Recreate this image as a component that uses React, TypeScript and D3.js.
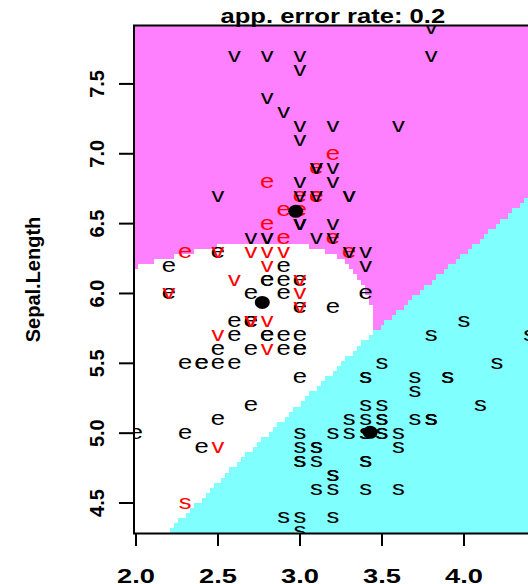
import React from "react";
import * as d3 from "d3";

// iris data: Sepal.Width (x) and Sepal.Length (y) per species
const setosaWidth = [3.5,3.0,3.2,3.1,3.6,3.9,3.4,3.4,2.9,3.1,3.7,3.4,3.0,3.0,4.0,4.4,3.9,3.5,3.8,3.8,3.4,3.7,3.6,3.3,3.4,3.0,3.4,3.5,3.4,3.2,3.1,3.4,4.1,4.2,3.1,3.2,3.5,3.6,3.0,3.4,3.5,2.3,3.2,3.5,3.8,3.0,3.8,3.2,3.7,3.3];
const setosaLength = [5.1,4.9,4.7,4.6,5.0,5.4,4.6,5.0,4.4,4.9,5.4,4.8,4.8,4.3,5.8,5.7,5.4,5.1,5.7,5.1,5.4,5.1,4.6,5.1,4.8,5.0,5.0,5.2,5.2,4.7,4.8,5.4,5.2,5.5,4.9,5.0,5.5,4.9,4.4,5.1,5.0,4.5,4.4,5.0,5.1,4.8,5.1,4.6,5.3,5.0];
const versicolorWidth = [3.2,3.2,3.1,2.3,2.8,2.8,3.3,2.4,2.9,2.7,2.0,3.0,2.2,2.9,2.9,3.1,3.0,2.7,2.2,2.5,3.2,2.8,2.5,2.8,2.9,3.0,2.8,3.0,2.9,2.6,2.4,2.4,2.7,2.7,3.0,3.4,3.1,2.3,3.0,2.5,2.6,3.0,2.6,2.3,2.7,3.0,2.9,2.9,2.5,2.8];
const versicolorLength = [7.0,6.4,6.9,5.5,6.5,5.7,6.3,4.9,6.6,5.2,5.0,5.9,6.0,6.1,5.6,6.7,5.6,5.8,6.2,5.6,5.9,6.1,6.3,6.1,6.4,6.6,6.8,6.7,6.0,5.7,5.5,5.5,5.8,6.0,5.4,6.0,6.7,6.3,5.6,5.5,5.5,6.1,5.8,5.0,5.6,5.7,5.7,6.2,5.1,5.7];
const virginicaWidth = [3.3,2.7,3.0,2.9,3.0,3.0,2.5,2.9,2.5,3.6,3.2,2.7,3.0,2.5,2.8,3.2,3.0,3.8,2.6,2.2,3.2,2.8,2.8,2.7,3.3,3.2,2.8,3.0,2.8,3.0,2.8,3.8,2.8,2.8,2.6,3.0,3.4,3.1,3.0,3.1,3.1,3.1,2.7,3.2,3.3,3.0,2.5,3.0,3.4,3.0];
const virginicaLength = [6.3,5.8,7.1,6.3,6.5,7.6,4.9,7.3,6.7,7.2,6.5,6.4,6.8,5.7,5.8,6.4,6.5,7.7,7.7,6.0,6.9,5.6,7.7,6.3,6.7,7.2,6.2,6.1,6.4,7.2,7.4,7.9,6.4,6.3,6.1,7.7,6.3,6.4,6.0,6.9,6.7,6.9,5.8,6.8,6.7,6.7,6.3,6.5,6.2,5.9];

const classLabels = ["s", "e", "v"];
const regionColors = ["#80FFFF", "#FFFFFF", "#FF80FF"];
const xTicks = [2.0, 2.5, 3.0, 3.5, 4.0];
const yTicks = [4.5, 5.0, 5.5, 6.0, 6.5, 7.0, 7.5];
const titleText = "app. error rate: 0.2";
const yLabel = "Sepal.Length";
const PREC = 100;

const classes = [
  { w: setosaWidth, l: setosaLength },
  { w: versicolorWidth, l: versicolorLength },
  { w: virginicaWidth, l: virginicaLength },
];

// QDA fit (as in klaR::partimat, method = "qda")
const models = classes.map((c) => {
  const n = c.w.length;
  const mx = d3.mean(c.w)!;
  const my = d3.mean(c.l)!;
  let a = 0, b = 0, d = 0;
  for (let i = 0; i < n; i++) {
    const dx = c.w[i] - mx, dy = c.l[i] - my;
    a += dx * dx; b += dx * dy; d += dy * dy;
  }
  a /= n - 1; b /= n - 1; d /= n - 1;
  const det = a * d - b * b;
  return { mx, my, a, b, d, det };
});

function classify(x: number, y: number): number {
  let best = 0, bestS = -Infinity;
  models.forEach((m, k) => {
    const dx = x - m.mx, dy = y - m.my;
    const q = (m.d * dx * dx - 2 * m.b * dx * dy + m.a * dy * dy) / m.det;
    const s = -0.5 * Math.log(m.det) - 0.5 * q;
    if (s > bestS) { bestS = s; best = k; }
  });
  return best;
}

const allW = classes.flatMap((c) => c.w);
const allL = classes.flatMap((c) => c.l);
const xMin = d3.min(allW)!, xMax = d3.max(allW)!;
const yMin = d3.min(allL)!, yMax = d3.max(allL)!;
const dxg = (xMax - xMin) / (PREC - 1);
const dyg = (yMax - yMin) / (PREC - 1);

const L = 134, R = 531.6, T = 25.5, B = 533.5;
const xScale = d3.scaleLinear().domain([xMin - dxg / 2, xMax + dxg / 2]).range([L, R]);
const yScale = d3.scaleLinear().domain([yMin - dyg / 2, yMax + dyg / 2]).range([B, T]);

const SX = 1.22;
const FONT = "'Liberation Sans', Arial, sans-serif";

export default function App() {
  // grid cells, merged in horizontal runs
  const cells: { x: number; y: number; w: number; h: number; c: number }[] = [];
  const xe = d3.range(PREC + 1).map((i) => Math.round(xScale(xMin + (i - 0.5) * dxg)));
  const ye = d3.range(PREC + 1).map((j) => Math.round(yScale(yMin + (j - 0.5) * dyg)));
  for (let j = 0; j < PREC; j++) {
    const yv = yMin + j * dyg;
    let runStart = 0;
    let runClass = classify(xMin, yv);
    for (let i = 1; i <= PREC; i++) {
      const c = i < PREC ? classify(xMin + i * dxg, yv) : -1;
      if (c !== runClass) {
        if (runClass !== 1) {
          cells.push({ x: xe[runStart], y: ye[j + 1], w: xe[i] - xe[runStart], h: ye[j] - ye[j + 1], c: runClass });
        }
        runStart = i; runClass = c;
      }
    }
  }

  const pts: { x: number; y: number; k: number; ok: boolean }[] = [];
  classes.forEach((c, k) => {
    c.w.forEach((w, i) => {
      pts.push({ x: w, y: c.l[i], k, ok: classify(w, c.l[i]) === k });
    });
  });

  return (
    <svg width={528} height={584} style={{ position: "absolute", left: 0, top: 0, background: "#fff" }} fontFamily={FONT}>
      <defs>
        <clipPath id="plotclip">
          <rect x={L} y={T} width={R - L} height={B - T} />
        </clipPath>
      </defs>
      <rect x={0} y={0} width={528} height={584} fill="#fff" />
      <g clipPath="url(#plotclip)" shapeRendering="crispEdges">
        {cells.map((c, i) => (
          <rect key={i} x={c.x} y={c.y} width={c.w} height={c.h} fill={regionColors[c.c]} />
        ))}
      </g>
      <g clipPath="url(#plotclip)">
        {pts.map((p, i) => (
          <text
            key={i}
            transform={`translate(${xScale(p.x)},${yScale(p.y) + 6}) scale(${SX},1)`}
            textAnchor="middle"
            fontSize={21}
            fill={p.ok ? "#000" : "#FF0000"}
          >
            {classLabels[p.k]}
          </text>
        ))}
        {models.map((m, i) => (
          <ellipse key={i} cx={xScale(m.mx)} cy={yScale(m.my)} rx={7.5} ry={6.5} fill="#000" />
        ))}
      </g>
      <rect x={L} y={T} width={R - L} height={B - T} fill="none" stroke="#000" strokeWidth={2} />
      {xTicks.map((t) => (
        <g key={t}>
          <line x1={xScale(t)} x2={xScale(t)} y1={B} y2={546} stroke="#000" strokeWidth={2} />
          <text transform={`translate(${xScale(t)},583) scale(1.3,1)`} textAnchor="middle" fontSize={21} fontWeight="bold">
            {t.toFixed(1)}
          </text>
        </g>
      ))}
      {yTicks.map((t) => (
        <g key={t}>
          <line x1={L} x2={119} y1={yScale(t)} y2={yScale(t)} stroke="#000" strokeWidth={2} />
          <text transform={`translate(104,${yScale(t)}) rotate(-90)`} textAnchor="middle" fontSize={20} fontWeight="bold">
            {t.toFixed(1)}
          </text>
        </g>
      ))}
      <text transform={`translate(40,${(T + B) / 2}) rotate(-90)`} textAnchor="middle" fontSize={20} fontWeight="bold">
        {yLabel}
      </text>
      <text transform={`translate(${(L + R) / 2},23) scale(${SX},1)`} textAnchor="middle" fontSize={21} fontWeight="bold">
        {titleText}
      </text>
    </svg>
  );
}
